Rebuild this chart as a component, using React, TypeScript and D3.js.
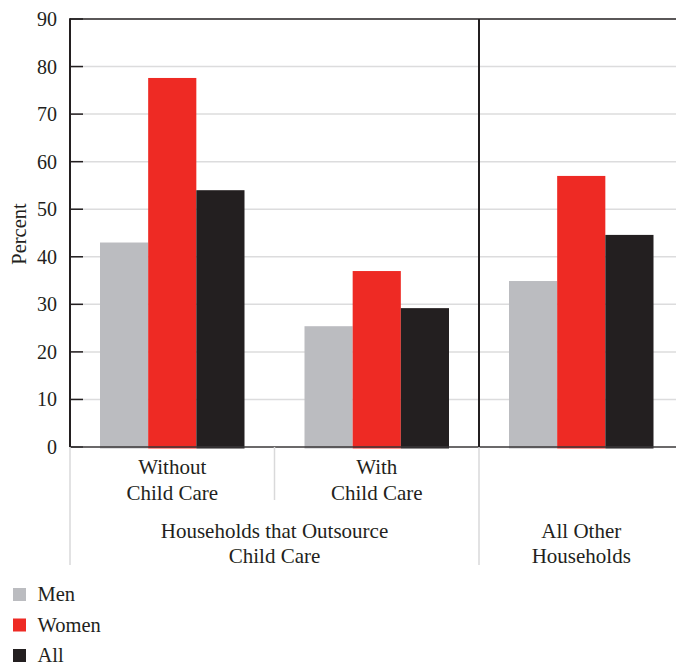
import React from "react";
import * as d3 from "d3";

const groups = ["Without Child Care", "With Child Care", "All Other Households"];
const groupLabels = [["Without", "Child Care"], ["With", "Child Care"], []];
const series = ["Men", "Women", "All"];
const colors = ["#bbbcc0", "#ee2a24", "#231f20"];
const men = [43, 25.4, 34.9];
const women = [77.6, 37, 57];
const all = [54, 29.2, 44.6];
const yTicks = [0, 10, 20, 30, 40, 50, 60, 70, 80, 90];
const superLabels = [
  { lines: ["Households that Outsource", "Child Care"], from: 0, to: 2 },
  { lines: ["All Other", "Households"], from: 2, to: 3 },
];

const W = 676;
const H = 667;
const left = 70;
const right = 683.5;
const top = 19;
const bottom = 447;
const font = "'Liberation Serif', 'Times New Roman', serif";
const textColor = "#231f20";
const fs = 21;

export default function App() {
  const values = [men, women, all];
  const x0 = d3.scaleBand().domain(groups).range([left, right]).paddingInner(0).paddingOuter(0);
  const x1 = d3.scaleBand().domain(series).range([30, x0.bandwidth() - 30]);
  const y = d3.scaleLinear().domain([0, 90]).range([bottom, top]);
  const bx = (i: number) => x0(groups[i]) as number;

  return (
    <svg width={W} height={H} style={{ position: "absolute", left: 0, top: 0, background: "#fff" }}>
      {/* gridlines */}
      {yTicks.slice(1, -1).map((t) => (
        <line key={"g" + t} x1={left} x2={W} y1={y(t)} y2={y(t)} stroke="#dcdcdd" strokeWidth={1.5} />
      ))}
      {/* bars */}
      {groups.map((g, gi) =>
        series.map((s, si) => (
          <rect
            key={g + s}
            x={bx(gi) + (x1(s) as number)}
            y={y(values[si][gi])}
            width={x1.bandwidth()}
            height={bottom + 1.5 - y(values[si][gi])}
            fill={colors[si]}
          />
        ))
      )}
      {/* ticks */}
      {yTicks.map((t) => (
        <g key={"t" + t}>
          <line x1={left} x2={left + 13} y1={y(t)} y2={y(t)} stroke={textColor} strokeWidth={1.5} />
          <text x={57} y={y(t) + 7} textAnchor="end" fontFamily={font} fontSize={20} fill={textColor}>
            {t}
          </text>
        </g>
      ))}
      {/* top border */}
      <line x1={left} x2={W} y1={y(90)} y2={y(90)} stroke={textColor} strokeWidth={1.5} />
      {/* baseline */}
      <line x1={left} x2={W} y1={bottom} y2={bottom} stroke="#3a3738" strokeWidth={1.5} />
      {/* y axis */}
      <line x1={left} x2={left} y1={top - 0.75} y2={bottom} stroke={textColor} strokeWidth={2} />
      {/* section divider */}
      <line x1={bx(2)} x2={bx(2)} y1={top} y2={bottom} stroke={textColor} strokeWidth={2} />
      {/* below-axis separators */}
      <line x1={left} x2={left} y1={bottom} y2={565} stroke="#d9d9da" strokeWidth={1.5} />
      <line x1={bx(1)} x2={bx(1)} y1={bottom} y2={500} stroke="#d9d9da" strokeWidth={1.5} />
      <line x1={bx(2)} x2={bx(2)} y1={bottom} y2={565} stroke="#d9d9da" strokeWidth={1.5} />
      {/* group labels */}
      {groups.map((g, gi) =>
        groupLabels[gi].map((ln, li) => (
          <text
            key={g + li}
            x={bx(gi) + x0.bandwidth() / 2}
            y={474 + li * 25.5}
            textAnchor="middle"
            fontFamily={font}
            fontSize={fs}
            fill={textColor}
          >
            {ln}
          </text>
        ))
      )}
      {/* super labels */}
      {superLabels.map((sl, i) =>
        sl.lines.map((ln, li) => (
          <text
            key={"s" + i + li}
            x={i === 0 ? (bx(sl.from) + bx(sl.to)) / 2 : bx(sl.from) + x0.bandwidth() / 2}
            y={538 + li * 25}
            textAnchor="middle"
            fontFamily={font}
            fontSize={fs}
            fill={textColor}
          >
            {ln}
          </text>
        ))
      )}
      {/* y title */}
      <text
        transform={`translate(26, 234) rotate(-90)`}
        textAnchor="middle"
        fontFamily={font}
        fontSize={20.5}
        fill={textColor}
      >
        Percent
      </text>
      {/* legend */}
      {series.map((s, i) => (
        <g key={"l" + s} transform={`translate(13, ${601 + i * 30.5})`}>
          <rect x={0} y={-13} width={13} height={13} fill={colors[i]} />
          <text x={24.5} y={0} fontFamily={font} fontSize={20.5} fill={textColor}>
            {s}
          </text>
        </g>
      ))}
    </svg>
  );
}
